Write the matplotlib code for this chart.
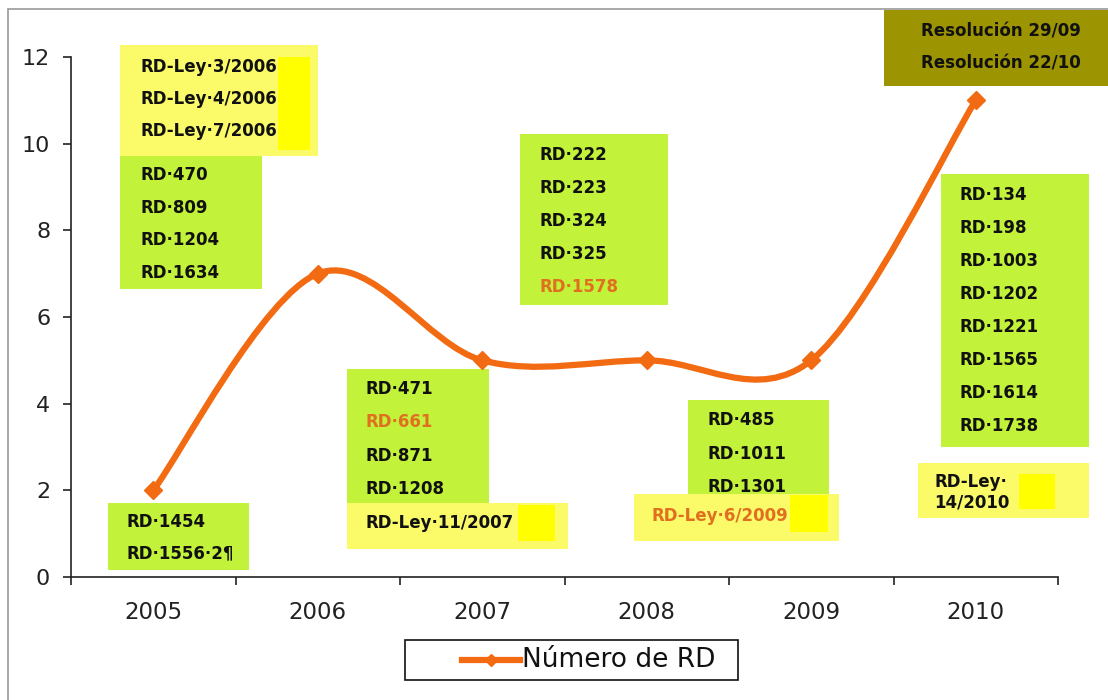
# Número de RD por año, con las normas de cada año en recuadros

import matplotlib
matplotlib.use("Agg")
import matplotlib.pyplot as plt
from matplotlib.path import Path
from matplotlib.patches import PathPatch, Rectangle
from matplotlib.lines import Line2D
import numpy as np

years = ["2005", "2006", "2007", "2008", "2009", "2010"]
num_rd = [2, 7, 5, 5, 5, 11]

# normas de cada recuadro
rd_2005_top = ["RD·470", "RD·809", "RD·1204", "RD·1634"]
ley_2006 = ["RD-Ley·3/2006", "RD-Ley·4/2006", "RD-Ley·7/2006"]
rd_2005_low = ["RD·1454", "RD·1556·2¶"]
rd_2007 = ["RD·471", "RD·661", "RD·871", "RD·1208"]
ley_2007 = ["RD-Ley·11/2007"]
rd_2008 = ["RD·222", "RD·223", "RD·324", "RD·325", "RD·1578"]
rd_2009 = ["RD·485", "RD·1011", "RD·1301"]
ley_2009 = ["RD-Ley·6/2009"]
rd_2010 = ["RD·134", "RD·198", "RD·1003", "RD·1202", "RD·1221", "RD·1565", "RD·1614", "RD·1738"]
ley_2010 = ["RD-Ley·", "14/2010"]
resol_2010 = ["Resolución 29/09", "Resolución 22/10"]
highlighted = {"RD·661", "RD·1578", "RD-Ley·6/2009"}

ORANGE = "#f26a12"
TXT_ORANGE = "#e07020"
GREEN = "#c3f23a"
LYELLOW = "#fbfb6a"
BYELLOW = "#ffff00"
OLIVE = "#9c9400"

fig = plt.figure(figsize=(11.08, 7), dpi=100)
ax = fig.add_axes([0.0641, 0.1757, 0.8908, 0.7429])

x = np.arange(len(years))
y = np.array(num_rd, dtype=float)

# smoothed line (Catmull-Rom through the points, as cubic beziers)
pts = np.column_stack([x, y])
verts = [pts[0]]
codes = [Path.MOVETO]
n = len(pts)
for i in range(n - 1):
    p_prev = pts[i - 1] if i > 0 else pts[i]
    p_next = pts[i + 2] if i + 2 < n else pts[i + 1]
    c1 = pts[i] + (pts[i + 1] - p_prev) / 6
    c2 = pts[i + 1] - (p_next - pts[i]) / 6
    verts += [c1, c2, pts[i + 1]]
    codes += [Path.CURVE4] * 3
ax.add_patch(PathPatch(Path(verts, codes), facecolor="none", edgecolor=ORANGE,
                       lw=4.5, capstyle="round", zorder=4))
ax.plot(x, y, "D", color=ORANGE, ms=9, zorder=5)


def box(x0, y0, x1, y1, color):
    ax.add_patch(Rectangle((x0, y0), x1 - x0, y1 - y0, facecolor=color,
                           edgecolor="none", clip_on=False, zorder=2))


def lines(labels, x0, y_top, step, size=12):
    for k, lab in enumerate(labels):
        col = TXT_ORANGE if lab in highlighted else "#111111"
        ax.text(x0, y_top - k * step, lab, fontsize=size, fontweight="bold",
                color=col, va="center", ha="left", zorder=3, clip_on=False)


# 2006 leyes + 2005 RD (arriba a la izquierda)
box(-0.20, 9.72, 1.00, 12.28, LYELLOW)
box(0.76, 9.85, 0.95, 12.0, BYELLOW)
lines(ley_2006, -0.08, 11.77, 0.74)
box(-0.20, 6.65, 0.66, 9.72, GREEN)
lines(rd_2005_top, -0.08, 9.28, 0.755)

# 2005 abajo
box(-0.275, 0.16, 0.58, 1.71, GREEN)
lines(rd_2005_low, -0.16, 1.27, 0.72)

# 2007
box(1.18, 1.71, 2.04, 4.80, GREEN)
lines(rd_2007, 1.29, 4.34, 0.77)
box(1.18, 0.65, 2.52, 1.71, LYELLOW)
box(2.22, 0.83, 2.44, 1.66, BYELLOW)
lines(ley_2007, 1.29, 1.25, 0.77)

# 2008
box(2.23, 6.28, 3.13, 10.22, GREEN)
lines(rd_2008, 2.35, 9.74, 0.763)

# 2009
box(3.25, 1.87, 4.11, 4.08, GREEN)
lines(rd_2009, 3.37, 3.62, 0.77)
box(2.92, 0.83, 4.17, 1.92, LYELLOW)
box(3.87, 1.04, 4.10, 1.89, BYELLOW)
lines(ley_2009, 3.03, 1.41, 0.77)

# 2010
box(4.79, 3.00, 5.69, 9.30, GREEN)
lines(rd_2010, 4.90, 8.82, 0.763)
box(4.65, 1.36, 5.69, 2.63, LYELLOW)
box(5.26, 1.57, 5.48, 2.38, BYELLOW)
lines(ley_2010, 4.75, 2.19, 0.46)
box(4.44, 11.33, 5.85, 13.09, OLIVE)
lines(resol_2010, 4.67, 12.58, 0.74)

# axes
ax.set_xlim(-0.5, len(years) - 0.5)
ax.set_ylim(0, 12)
ax.set_yticks(range(0, 13, 2))
ax.set_xticks(x)
ax.set_xticklabels(years)
ax.set_xticks(np.arange(-0.5, len(years)), minor=True)
ax.tick_params(axis="x", which="major", length=0, pad=17, labelsize=16.5, colors="#222222")
ax.tick_params(axis="x", which="minor", length=6, direction="out", width=1.2, color="#222222")
ax.tick_params(axis="y", length=6, direction="out", width=1.2, pad=9, labelsize=16, colors="#222222")
for s in ["top", "right"]:
    ax.spines[s].set_visible(False)
for s in ["left", "bottom"]:
    ax.spines[s].set_color("#222222")
    ax.spines[s].set_linewidth(1.2)
ax.patch.set_alpha(0)

# legend drawn by hand so the frame keeps its width
W, H = 1108, 700
fig.patches.append(Rectangle((405 / W, 1 - 680 / H), 333 / W, 40 / H,
                             transform=fig.transFigure, facecolor="white",
                             edgecolor="#111111", lw=1.2))
fig.lines.append(Line2D([462 / W, 520 / W], [1 - 660 / H] * 2, transform=fig.transFigure,
                        color=ORANGE, lw=4.5))
fig.lines.append(Line2D([491 / W], [1 - 660 / H], transform=fig.transFigure,
                        color=ORANGE, marker="D", ms=6, ls="none"))
fig.text(522 / W, 1 - 660 / H, "Número de RD", fontsize=19, color="#111111",
         ha="left", va="center")

# marco exterior
fig.patches.append(Rectangle((8 / W, -0.1), 1.2, 1.1 - 9 / H,
                             transform=fig.transFigure, facecolor="none",
                             edgecolor="#999999", lw=1.2, zorder=0))

fig.savefig("out.png", dpi=100)
